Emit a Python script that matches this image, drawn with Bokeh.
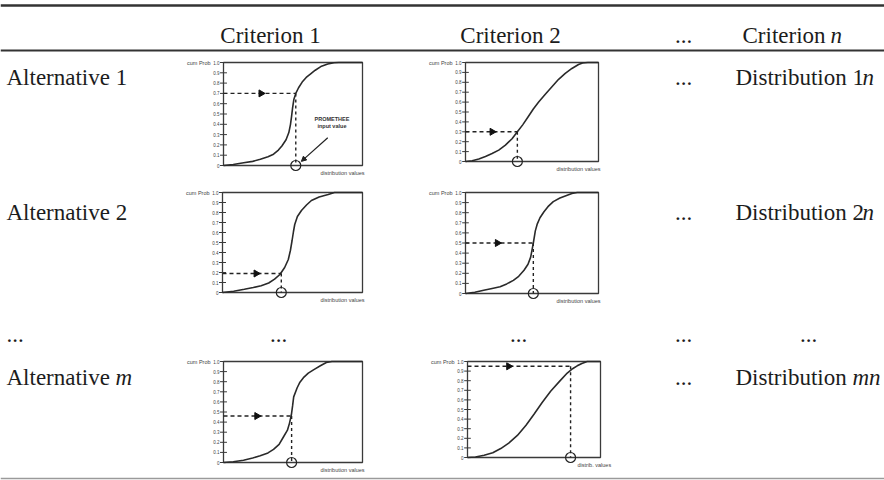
import numpy as np
from bokeh.plotting import figure
from bokeh.models import Range1d, Arrow, NormalHead
from bokeh.core.properties import value
from bokeh.embed import file_html
from bokeh.resources import INLINE

# ---------------- data ----------------
header_labels = ["Criterion 1", "Criterion 2", "..."]
row_labels = ["Alternative 1", "Alternative 2", "..."]
dist_labels = ["Distribution 1", "Distribution 2", "Distribution "]
dist_italic = ["n", "n", "mn"]

tick_values = [0.0, 0.1, 0.2, 0.3, 0.4, 0.5, 0.6, 0.7, 0.8, 0.9, 1.0]
tick_labels = ["0", "0.1", "0.2", "0.3", "0.4", "0.5", "0.6", "0.7", "0.8", "0.9", "1.0"]

# cumulative probability curves (x: share of distribution axis, y: cum. prob)
curve_r1c1_x = [0, 0.07, 0.145, 0.21, 0.265, 0.32, 0.36, 0.395, 0.42, 0.45, 0.47, 0.482, 0.49,
                0.497, 0.506, 0.52, 0.54, 0.566, 0.595, 0.627, 0.66, 0.70, 0.75, 0.795, 0.83, 1.0]
curve_r1c1_y = [0, 0.01, 0.026, 0.04, 0.06, 0.085, 0.11, 0.15, 0.19, 0.25, 0.32, 0.40, 0.48,
                0.56, 0.64, 0.70, 0.755, 0.81, 0.855, 0.89, 0.925, 0.96, 0.985, 0.997, 1.0, 1.0]
curve_r1c2_x = [0, 0.05, 0.10, 0.15, 0.20, 0.25, 0.30, 0.35, 0.39, 0.43, 0.47, 0.51, 0.55, 0.60,
                0.65, 0.70, 0.75, 0.80, 0.85, 0.88, 0.92, 1.0]
curve_r1c2_y = [0, 0.008, 0.025, 0.05, 0.08, 0.115, 0.165, 0.23, 0.30, 0.37, 0.45, 0.53, 0.60, 0.68,
                0.755, 0.83, 0.89, 0.94, 0.98, 0.995, 1.0, 1.0]
curve_r2c1_x = [0, 0.08, 0.156, 0.22, 0.276, 0.33, 0.372, 0.41, 0.444, 0.47, 0.485, 0.497, 0.507,
                0.516, 0.535, 0.564, 0.60, 0.635, 0.69, 0.755, 0.80, 1.0]
curve_r2c1_y = [0, 0.013, 0.033, 0.05, 0.067, 0.095, 0.133, 0.18, 0.25, 0.33, 0.42, 0.52, 0.61,
                0.68, 0.76, 0.82, 0.875, 0.92, 0.955, 0.98, 1.0, 1.0]
curve_r2c2_x = [0, 0.07, 0.137, 0.20, 0.26, 0.31, 0.36, 0.40, 0.44, 0.47, 0.49, 0.50, 0.51, 0.525,
                0.54, 0.56, 0.59, 0.62, 0.66, 0.71, 0.76, 0.80, 0.84, 1.0]
curve_r2c2_y = [0, 0.013, 0.033, 0.05, 0.066, 0.095, 0.13, 0.17, 0.23, 0.29, 0.36, 0.43, 0.50, 0.62,
                0.69, 0.75, 0.81, 0.86, 0.91, 0.945, 0.97, 0.99, 1.0, 1.0]
curve_rmc1_x = [0, 0.07, 0.144, 0.21, 0.264, 0.32, 0.36, 0.40, 0.43, 0.46, 0.475, 0.488, 0.497,
                0.505, 0.53, 0.55, 0.575, 0.61, 0.65, 0.70, 0.74, 0.78, 1.0]
curve_rmc1_y = [0, 0.008, 0.023, 0.045, 0.066, 0.095, 0.13, 0.18, 0.25, 0.32, 0.39, 0.47, 0.56,
                0.65, 0.74, 0.795, 0.84, 0.885, 0.92, 0.96, 0.99, 1.0, 1.0]
curve_rmc2_x = [0, 0.06, 0.125, 0.19, 0.25, 0.31, 0.375, 0.44, 0.5, 0.56, 0.625, 0.69, 0.75, 0.79,
                0.825, 0.86, 0.9, 1.0]
curve_rmc2_y = [0, 0.006, 0.024, 0.05, 0.093, 0.15, 0.23, 0.335, 0.45, 0.57, 0.69, 0.79, 0.88, 0.925,
                0.955, 0.98, 1.0, 1.0]

curves_x = [curve_r1c1_x, curve_r1c2_x, curve_r2c1_x, curve_r2c2_x, curve_rmc1_x, curve_rmc2_x]
curves_y = [curve_r1c1_y, curve_r1c2_y, curve_r2c1_y, curve_r2c2_y, curve_rmc1_y, curve_rmc2_y]

input_prob = [0.70, 0.30, 0.19, 0.50, 0.46, 0.95]      # dashed horizontal level
input_value = [0.52, 0.39, 0.42, 0.51, 0.49, 0.775]    # PROMETHEE input value (circle)
arrow_pos = [0.27, 0.20, 0.24, 0.24, 0.24, 0.31]
x_axis_titles = ["distribution values", "distribution values", "distribution values",
                 "distribution values", "distribution values", "distrib. values"]

# ---------------- layout ----------------
W, H = 884, 480
INK = "#1c1c1c"
SERIF = value("Liberation Serif")
SANS = value("Liberation Sans")
FS = "23px"

# frame boxes (left, right, top, bottom) in page pixels
boxes = [(223, 362, 62, 165), (465, 598, 62, 161),
         (222, 362, 192, 292), (465, 598, 192, 293),
         (223, 362, 361, 462), (467, 600, 361, 457)]

p = figure(width=W, height=H, output_backend="svg", toolbar_location=None,
           x_range=Range1d(0, W), y_range=Range1d(H, 0),
           x_axis_location=None, y_axis_location=None, min_border=0)
p.grid.visible = False
p.outline_line_color = None
p.background_fill_color = "white"

# table rules
p.segment(x0=[0], x1=[W], y0=[5], y1=[5], line_color="#333333", line_width=2.5)
p.segment(x0=[0], x1=[W], y0=[50], y1=[50], line_color="#333333", line_width=2.2)
p.segment(x0=[0], x1=[W], y0=[478], y1=[478], line_color="#9a9a9a", line_width=1.5)

def txt(x, y, t, align="left", italic=False, size=FS):
    p.text(x=x, y=y, text=t, text_font=SERIF, text_font_size=size, text_color=INK,
           text_align=align, text_baseline="alphabetic",
           text_font_style="italic" if italic else "normal")

# header
txt([270, 510, 683], [35, 35, 35], header_labels, align="center")
txt([742], [35], ["Criterion"])
txt([830], [35], ["n"], italic=True)

# row labels
txt([6, 6], [77, 212], row_labels[:2])
txt([6], [334], ["..."])
txt([6], [377], ["Alternative"])
txt([115], [377], ["m"], italic=True)

# dots column and dots row
txt([683, 683, 683, 683], [77, 212, 334, 377], ["...", "...", "...", "..."], align="center")
txt([278, 518, 808], [334, 334, 334], ["...", "...", "..."], align="center")

# distribution column
txt([735, 735], [77, 212], dist_labels[:2])
txt([862, 862], [77, 212], dist_italic[:2], italic=True)
txt([735], [377], [dist_labels[2]])
txt([852], [377], [dist_italic[2]], italic=True)

# mini charts
for i, (L, R, T, B) in enumerate(boxes):
    w, h = R - L, B - T
    xs = -L / w
    ys = -(H - B) / h
    xn, yn = f"cx{i}", f"cy{i}"
    p.extra_x_ranges[xn] = Range1d(xs, xs + W / w)
    p.extra_y_ranges[yn] = Range1d(ys, ys + H / h)
    kw = dict(x_range_name=xn, y_range_name=yn)

    # frame
    p.quad(left=[0], right=[1], bottom=[0], top=[1], fill_color=None,
           line_color="#3a3a3a", line_width=1.3, **kw)
    # ticks and labels
    p.segment(x0=[-0.025] * len(tick_values), x1=[0.025] * len(tick_values),
              y0=tick_values, y1=tick_values, line_color="#3a3a3a", line_width=1, **kw)
    p.text(x=[0] * len(tick_values), y=tick_values, text=tick_labels, x_offset=-4,
           text_font=SANS, text_font_size="4.5px", text_color="#444444",
           text_align="right", text_baseline="middle", **kw)
    p.text(x=[0], y=[1], text=["cum Prob"], x_offset=-13,
           text_font=SANS, text_font_size="5.5px", text_color="#444444",
           text_align="right", text_baseline="middle", **kw)
    p.text(x=[1], y=[0], text=[x_axis_titles[i]], x_offset=-42 if i < 5 else -23, y_offset=7,
           text_font=SANS, text_font_size="5.5px", text_color="#444444",
           text_align="left", text_baseline="middle", **kw)

    # curve
    p.line(x=curves_x[i], y=curves_y[i], line_color="#2a2a2a", line_width=1.6, **kw)

    # dashed guides
    pv, xv = input_prob[i], input_value[i]
    p.segment(x0=[0], x1=[xv], y0=[pv], y1=[pv], line_color="#222222",
              line_width=1.4, line_dash="4 3", **kw)
    p.segment(x0=[xv], x1=[xv], y0=[pv], y1=[0], line_color="#222222",
              line_width=1.4, line_dash="3 3", **kw)
    p.scatter(x=[arrow_pos[i]], y=[pv], marker="triangle", size=7, angle=-np.pi / 2,
              fill_color="#111111", line_color="#111111", **kw)
    p.scatter(x=[xv], y=[0], marker="circle", size=10, fill_color=None,
              line_color="#222222", line_width=1.2, **kw)

    if i == 0:
        p.text(x=[0.78, 0.78], y=[0.45, 0.38], text=["PROMETHEE", "input value"],
               text_font=SANS, text_font_size="5.5px", text_color="#333333",
               text_align="center", text_baseline="middle",
               text_font_style="bold", **kw)
        p.add_layout(Arrow(end=NormalHead(size=5, fill_color="#222222", line_color="#222222"),
                           x_start=0.75, y_start=0.27, x_end=0.56, y_end=0.04,
                           line_color="#222222", line_width=1.2, **kw))

open("out.html", "w").write(file_html(p, INLINE))
